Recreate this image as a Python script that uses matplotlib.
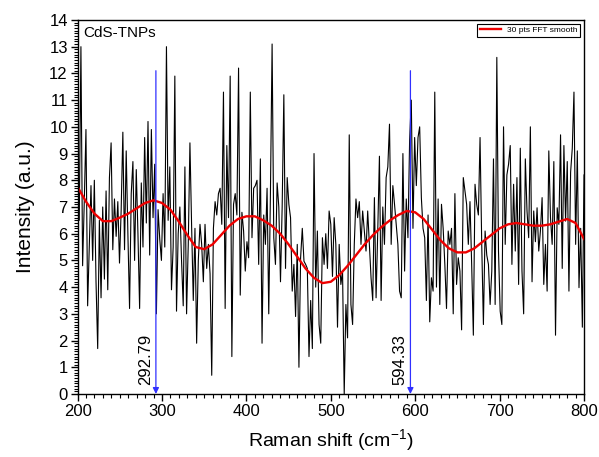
import matplotlib
matplotlib.use("Agg")
import matplotlib.pyplot as plt
import numpy as np
from matplotlib.ticker import MultipleLocator

plt.rcParams['font.family'] = ['Liberation Sans', 'DejaVu Sans']
plt.rcParams['mathtext.fontset'] = 'custom'
plt.rcParams['mathtext.rm'] = 'Liberation Sans'

raw_200_302 = [7.9, 6.5, 13.0, 4.8, 7.2, 9.9, 3.3, 5.6, 7.8, 5.0,
               8.0, 4.2, 1.7, 6.5, 3.6, 7.0, 4.3, 7.6, 3.9, 8.1,
               9.4, 5.4, 7.3, 5.9, 7.2, 4.9, 6.9, 9.8, 5.4, 9.1,
               6.0, 3.2, 7.5, 8.7, 5.0, 8.4, 6.0, 3.2, 7.9, 5.5,
               9.6, 6.4, 10.2, 5.2, 9.9, 6.6, 8.6, 3.0, 6.9, 5.8,
               5.0, 7.5]
raw_305_401 = [5.5, 13.0, 6.5, 8.5, 3.9, 5.5, 11.9, 3.1, 6.0, 7.0,
               5.0, 3.3, 8.5, 3.0, 5.6, 9.4, 6.3, 3.5, 6.2, 1.9,
               5.0, 6.35, 5.6, 4.2, 6.35, 4.7, 5.6, 4.5, 0.7, 6.2,
               7.2, 6.7, 7.5, 7.7, 6.35, 11.3, 3.2, 9.3, 6.6, 11.9,
               1.4, 7.1, 7.5, 6.7, 12.2, 3.7, 6.8, 6.1, 4.6, 5.7]
raw_404_500 = [5.1, 11.3, 5.85, 7.7, 7.8, 8.0, 4.85, 8.8, 1.9, 6.7,
               5.6, 7.7, 3.0, 7.5, 13.1, 5.85, 4.85, 7.9, 7.0, 4.2,
               7.0, 11.2, 4.7, 8.1, 7.1, 6.6, 3.85, 4.85, 2.9, 5.6,
               1.0, 5.1, 6.2, 4.97, 4.85, 4.7, 1.4, 3.5, 1.7, 9.0,
               4.0, 6.1, 2.6, 1.9, 5.85, 4.85, 6.0, 4.7, 6.85, 6.35]
raw_503_600 = [4.4, 6.6, 5.6, 2.5, 5.6, 4.1, 4.6, 0.0, 3.35, 2.1,
               9.7, 3.35, 2.6, 5.6, 7.3, 6.6, 7.2, 5.6, 6.85, 6.1,
               5.35, 6.85, 5.6, 4.35, 3.5, 7.35, 3.6, 6.1, 8.9, 3.5,
               7.0, 5.6, 8.1, 8.5, 10.1, 5.6, 7.8, 7.1, 6.35, 5.6,
               3.85, 3.6, 9.0, 4.6, 7.3, 5.85, 9.5, 11.0, 6.2, 9.6]
raw_602_699 = [7.8, 9.6, 10.0, 7.35, 6.2, 5.85, 3.5, 6.7, 2.7, 4.35,
               3.85, 11.3, 4.0, 7.3, 3.35, 7.1, 6.2, 4.85, 3.2, 6.1,
               5.6, 6.2, 3.0, 7.5, 4.1, 5.1, 4.6, 2.4, 8.1, 7.6,
               7.1, 5.6, 7.2, 4.85, 2.2, 7.85, 7.1, 6.7, 9.6, 5.6,
               2.6, 6.1, 5.2, 4.85, 3.35, 4.6, 8.8, 3.35, 12.6, 5.35]
raw_702_800 = [3.1, 2.6, 10.0, 5.6, 8.2, 8.6, 9.3, 4.85, 7.85, 5.35,
               8.1, 4.1, 9.2, 4.6, 3.0, 8.8, 6.85, 5.85, 10.0, 4.2,
               6.85, 5.7, 6.97, 5.35, 6.1, 7.35, 4.1, 5.6, 3.85, 9.1,
               6.6, 5.6, 8.7, 2.2, 6.97, 6.35, 9.7, 4.7, 9.3, 6.47,
               8.7, 3.85, 8.3, 9.2, 11.3, 5.6, 9.1, 3.98, 6.2, 2.5,
               8.2]

# 30 pts FFT smooth, read every 10 cm-1
smooth_x = list(range(200, 801, 10))
smooth_y = [7.75, 7.2, 6.75, 6.47, 6.47, 6.6, 6.75, 6.95, 7.15, 7.25,
            7.15, 6.9, 6.45, 5.95, 5.5, 5.42, 5.6, 5.95, 6.3, 6.55,
            6.65, 6.65, 6.5, 6.3, 6.0, 5.6, 5.15, 4.7, 4.35, 4.15,
            4.2, 4.45, 4.8, 5.2, 5.6, 5.95, 6.25, 6.5, 6.7, 6.85,
            6.8, 6.55, 6.15, 5.75, 5.45, 5.3, 5.3, 5.45, 5.7, 5.95,
            6.2, 6.35, 6.4, 6.35, 6.3, 6.3, 6.35, 6.45, 6.55, 6.4,
            5.8]

peaks = [292.79, 594.33]
peak_labels = ['292.79', '594.33']
arrow_top = 12.1

raw_y = raw_200_302 + raw_305_401 + raw_404_500 + raw_503_600 + raw_602_699 + raw_702_800
raw_x = np.linspace(200, 800, len(raw_y))

fig = plt.figure(figsize=(5.99, 4.57), dpi=100)
ax = fig.add_axes([0.1295, 0.1379, 0.8455, 0.8184])

ax.plot(raw_x, raw_y, color='black', lw=0.8)
ax.plot(smooth_x, smooth_y, color='#ee0000', lw=1.7, label='30 pts FFT smooth')

for p, lab in zip(peaks, peak_labels):
    ax.annotate('', xy=(p, 0), xytext=(p, arrow_top),
                arrowprops=dict(arrowstyle='-|>', color='#3030ff', lw=0.9,
                                mutation_scale=9, shrinkA=0, shrinkB=0))
    ax.text(p - 3, 0.35, lab, rotation=90, ha='right', va='bottom', fontsize=12)

ax.text(0.012, 0.985, 'CdS-TNPs', transform=ax.transAxes, ha='left', va='top', fontsize=11)

ax.set_xlim(200, 800)
ax.set_ylim(0, 14)
ax.xaxis.set_major_locator(MultipleLocator(100))
ax.xaxis.set_minor_locator(MultipleLocator(10))
ax.yaxis.set_major_locator(MultipleLocator(1))
ax.yaxis.set_minor_locator(MultipleLocator(0.1))
ax.tick_params(which='major', direction='out', length=5, width=1, labelsize=12, pad=2)
ax.tick_params(which='minor', direction='out', length=3, width=0.8)
for s in ax.spines.values():
    s.set_linewidth(1.0)

ax.set_xlabel('Raman shift (cm$^{-1}$)', fontsize=14, labelpad=6)
ax.set_ylabel('Intensity (a.u.)', fontsize=15, labelpad=10)

leg = ax.legend(loc='upper right', fontsize=6, handlelength=2.5, borderpad=0.3,
                borderaxespad=0.45, fancybox=False, framealpha=1, edgecolor='black')
leg.get_frame().set_linewidth(0.8)

fig.savefig('out.png', dpi=100)
